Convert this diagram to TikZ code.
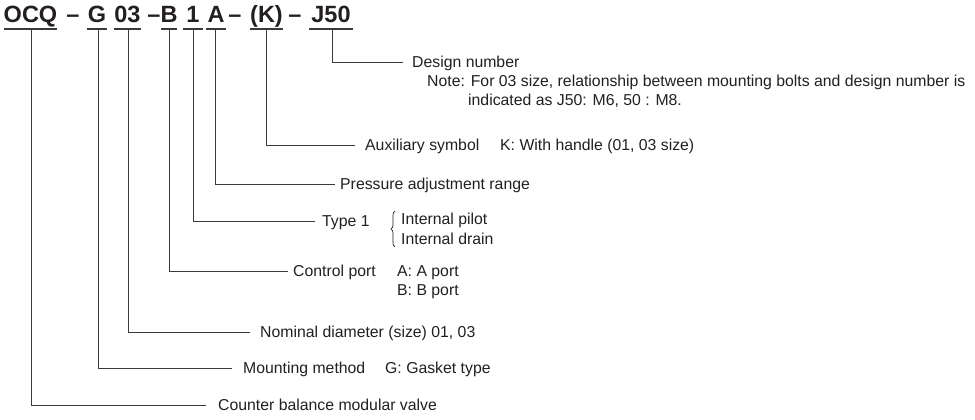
\documentclass[tikz,border=0pt]{standalone}
\usepackage{fontspec}
\setmainfont{Liberation Sans}
\usetikzlibrary{decorations.pathreplacing}
\definecolor{ink}{HTML}{231F20}
\definecolor{wire}{HTML}{3A3A3A}
\tikzset{
  ttl/.style={font=\fontsize{23.5}{25}\selectfont\bfseries, text=ink, inner sep=0pt, anchor=base},
  lbl/.style={font=\fontsize{15.8}{18}\selectfont, text=ink, inner sep=0pt, anchor=base west},
  uline/.style={draw=wire, line width=1.2pt},
  conn/.style={draw=wire, line width=1pt},
  curly/.style={draw=ink, line width=0.7pt, decorate, decoration={brace, amplitude=4pt}},
}
\begin{document}
\begin{tikzpicture}[x=1pt,y=1pt]
\useasboundingbox (0,0) rectangle (975,-420);
% title parts
\node[ttl] (p1) at (30.5,-23) {OCQ};
\node[ttl] (d1) at (73,-23) {–};
\node[ttl] (p2) at (97,-23) {G};
\node[ttl] (p3) at (127.5,-23) {03};
\node[ttl] (d2) at (154,-23) {–};
\node[ttl] (p4) at (169,-23) {B};
\node[ttl] (p5) at (193,-23) {1};
\node[ttl] (p6) at (216,-23) {A};
\node[ttl] (d3) at (235,-23) {–};
\node[ttl] (p7) at (266.5,-23) {(K)};
\node[ttl] (d4) at (295,-23) {–};
\node[ttl] (p8) at (331,-23) {J50};
% underlines
\draw[uline] (4,-29) -- (57,-29);
\draw[uline] (87,-29) -- (107,-29);
\draw[uline] (114,-29) -- (141,-29);
\draw[uline] (161,-29) -- (177,-29);
\draw[uline] (183,-29) -- (203,-29);
\draw[uline] (206,-29) -- (226,-29);
\draw[uline] (250,-29) -- (283,-29);
\draw[uline] (309,-29) -- (353,-29);
% connector tops
\coordinate (t1) at (31,-29);
\coordinate (t2) at (98,-29);
\coordinate (t3) at (128,-29);
\coordinate (t4) at (169,-29);
\coordinate (t5) at (193,-29);
\coordinate (t6) at (215,-29);
\coordinate (t7) at (266,-29);
\coordinate (t8) at (332,-29);
% connector ends
\coordinate (e8) at (403,-63);
\coordinate (e7) at (355,-145);
\coordinate (e6) at (335,-184);
\coordinate (e5) at (315,-221);
\coordinate (e4) at (288,-271);
\coordinate (e3) at (250,-332);
\coordinate (e2) at (232,-368);
\coordinate (e1) at (206,-405);
% labels
\node[lbl] (l8) at (412,-68) {Design number};
\node[lbl] (l8a) at (427,-87) {Note: For 03 size, relationship between mounting bolts and design number is};
\node[lbl] (l8b) at (468,-105) {indicated as J50: M6, 50 : M8.};
\node[lbl] (l7) at (365,-150) {Auxiliary symbol};
\node[lbl] (l7a) at (500,-150) {K: With handle (01, 03 size)};
\node[lbl] (l6) at (340,-189) {Pressure adjustment range};
\node[lbl] (l5) at (322,-226) {Type 1};
\node[lbl] (l5a) at (401,-224) {Internal pilot};
\node[lbl] (l5b) at (401,-244) {Internal drain};
\node[lbl] (l4) at (293,-276) {Control port};
\node[lbl] (l4a) at (397,-276) {A: A port};
\node[lbl] (l4b) at (397,-295) {B: B port};
\node[lbl] (l3) at (260,-337) {Nominal diameter (size) 01, 03};
\node[lbl] (l2) at (243,-373) {Mounting method};
\node[lbl] (l2a) at (385,-373) {G: Gasket type};
\node[lbl] (l1) at (218,-410) {Counter balance modular valve};
% brace
\draw[curly] (395,-247) -- (395,-211);
% connectors
\draw[conn] (t8) |- (e8);
\draw[conn] (t7) |- (e7);
\draw[conn] (t6) |- (e6);
\draw[conn] (t5) |- (e5);
\draw[conn] (t4) |- (e4);
\draw[conn] (t3) |- (e3);
\draw[conn] (t2) |- (e2);
\draw[conn] (t1) |- (e1);
\end{tikzpicture}
\end{document}
